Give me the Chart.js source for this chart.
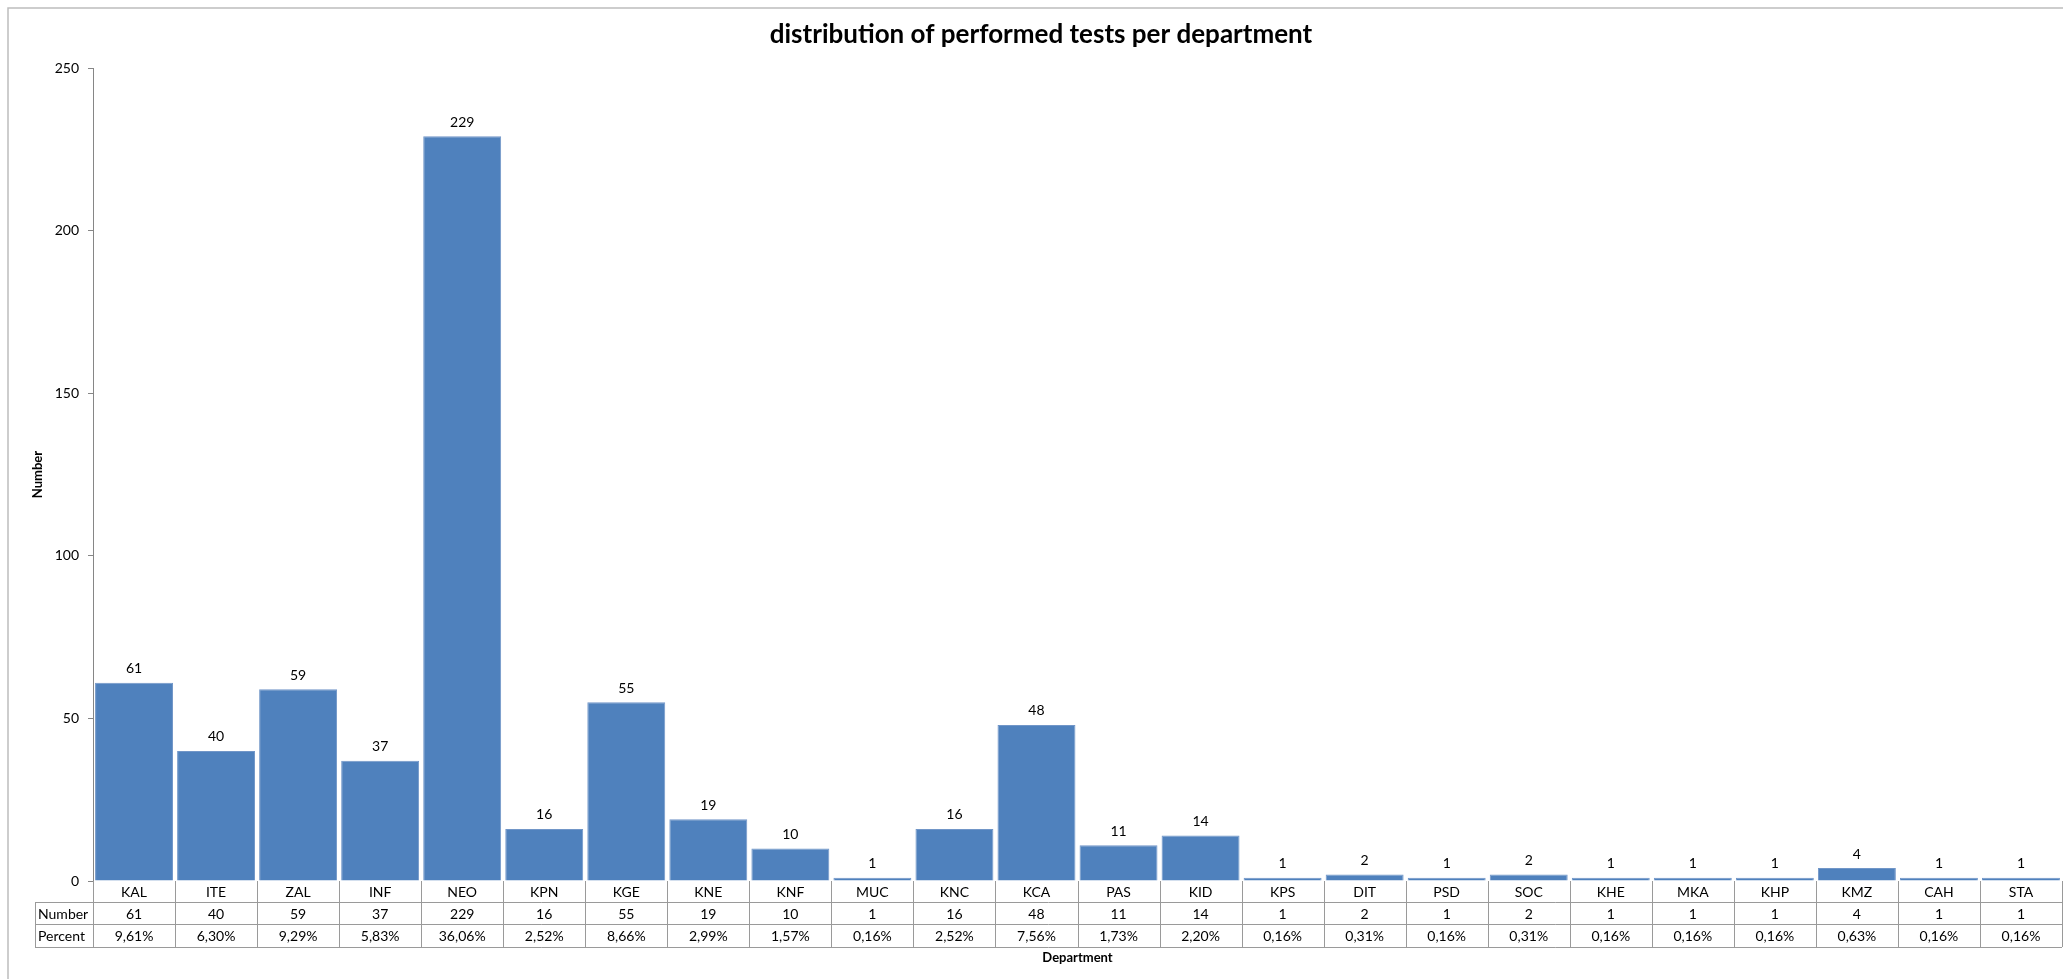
<!DOCTYPE html>
<html>
<head>
<meta charset="utf-8">
<script src="https://cdn.jsdelivr.net/npm/chart.js@4/dist/chart.umd.min.js"></script>
<style>
  html, body { margin: 0; padding: 0; background: #fff; }
  #wrap { position: relative; width: 2063px; height: 979px; }
</style>
</head>
<body>
<div id="wrap"><canvas id="chart" width="2063" height="979"></canvas></div>
<script>
const departments = ["KAL","ITE","ZAL","INF","NEO","KPN","KGE","KNE","KNF","MUC","KNC","KCA","PAS","KID","KPS","DIT","PSD","SOC","KHE","MKA","KHP","KMZ","CAH","STA"];
const counts = [61,40,59,37,229,16,55,19,10,1,16,48,11,14,1,2,1,2,1,1,1,4,1,1];
const percents = ["9,61%","6,30%","9,29%","5,83%","36,06%","2,52%","8,66%","2,99%","1,57%","0,16%","2,52%","7,56%","1,73%","2,20%","0,16%","0,31%","0,16%","0,31%","0,16%","0,16%","0,16%","0,63%","0,16%","0,16%"];
const yTicks = [0, 50, 100, 150, 200, 250];

const FONT = "Lato, 'Open Sans', sans-serif";

// title, axis titles, value labels and the data table under the bars
const extras = {
  id: "extras",
  afterDraw(chart) {
    const ctx = chart.ctx;
    const x = chart.scales.x;
    const area = chart.chartArea;
    ctx.save();

    // outer frame (only top and left visible in the reference)
    ctx.strokeStyle = "#bdbdbd";
    ctx.lineWidth = 1.5;
    ctx.beginPath();
    ctx.moveTo(8, 979); ctx.lineTo(8, 8); ctx.lineTo(2063, 8);
    ctx.stroke();

    ctx.fillStyle = "#000";
    ctx.textAlign = "center";
    ctx.textBaseline = "middle";
    ctx.font = "bold 26px " + FONT;
    ctx.fillText("distribution of performed tests per department", 1041, 35);

    // value labels
    ctx.font = "14px " + FONT;
    ctx.textBaseline = "bottom";
    const meta = chart.getDatasetMeta(0);
    meta.data.forEach((bar, i) => {
      ctx.fillText(String(counts[i]), bar.x, bar.y - 7);
    });

    // table
    const r0 = area.bottom, r1 = r0 + 21, r2 = r1 + 22, r3 = r2 + 23;
    const labelLeft = 35;
    const step = x.getPixelForValue(1) - x.getPixelForValue(0);
    ctx.strokeStyle = "#9a9a9a";
    ctx.lineWidth = 1;
    ctx.beginPath();
    [r1, r2, r3].forEach(y => {
      ctx.moveTo(labelLeft, y + 0.5); ctx.lineTo(area.right, y + 0.5);
    });
    ctx.moveTo(labelLeft + 0.5, r1); ctx.lineTo(labelLeft + 0.5, r3);
    for (let i = 0; i <= departments.length; i++) {
      const px = Math.round(x.getPixelForValue(i) - step / 2) + 0.5;
      ctx.moveTo(px, r0); ctx.lineTo(px, r3);
    }
    ctx.stroke();

    ctx.textBaseline = "middle";
    ctx.font = "14px " + FONT;
    departments.forEach((d, i) => {
      const cx = x.getPixelForValue(i);
      ctx.fillText(d, cx, (r0 + r1) / 2 + 1);
      ctx.fillText(String(counts[i]), cx, (r1 + r2) / 2 + 1);
      ctx.fillText(percents[i], cx, (r2 + r3) / 2 + 1);
    });
    ctx.textAlign = "left";
    ctx.fillText("Number", labelLeft + 3, (r1 + r2) / 2 + 1);
    ctx.fillText("Percent", labelLeft + 3, (r2 + r3) / 2 + 1);

    // axis titles
    ctx.textAlign = "center";
    ctx.font = "bold 13px " + FONT;
    ctx.fillText("Department", (area.left + area.right) / 2, 958);
    ctx.translate(38, (area.top + area.bottom) / 2);
    ctx.rotate(-Math.PI / 2);
    ctx.fillText("Number", 0, 0);
    ctx.restore();
  }
};

new Chart(document.getElementById("chart"), {
  type: "bar",
  data: {
    labels: departments,
    datasets: [{
      data: counts,
      backgroundColor: "#4F81BD",
      borderColor: "#7196c8",
      borderWidth: 1,
      barPercentage: 0.95,
      categoryPercentage: 1.0
    }]
  },
  options: {
    responsive: false,
    animation: false,
    layout: { padding: { left: 0, right: 1, top: 68, bottom: 979 - 881 } },
    plugins: { legend: { display: false }, tooltip: { enabled: false } },
    scales: {
      x: {
        display: false,
        offset: true
      },
      y: {
        min: 0,
        max: 250,
        afterFit: s => { s.width = 93; },
        afterBuildTicks: s => { s.ticks = yTicks.map(v => ({ value: v })); },
        ticks: { color: "#000", font: { family: FONT, size: 14 }, padding: 9 },
        grid: { drawOnChartArea: false, drawTicks: true, tickLength: 5, color: "#868686" },
        border: { display: true, color: "#868686", width: 1 }
      }
    }
  },
  plugins: [extras]
});
</script>
</body>
</html>
